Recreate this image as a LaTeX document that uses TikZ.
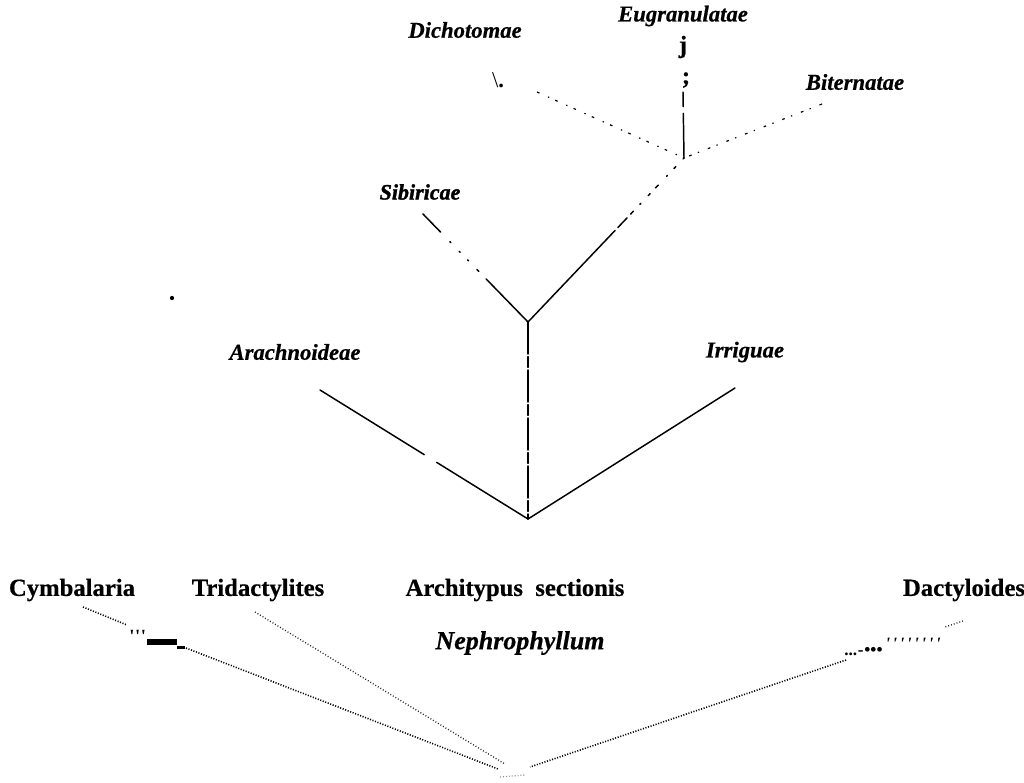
\documentclass[tikz,border=0pt]{standalone}
\usepackage{fontspec}
\setmainfont{Liberation Serif}
\begin{document}
\begin{tikzpicture}[x=0.75pt,y=-0.75pt,
  lbl/.style={font=\fontsize{17}{17}\selectfont\bfseries\itshape\addfontfeature{FakeBold=0.6}, inner sep=0pt},
  lblup/.style={font=\fontsize{18.5}{19}\selectfont\bfseries\addfontfeature{FakeBold=0.6}, inner sep=0pt},
  edge/.style={line width=1.1pt, line cap=round},
  sparse/.style={line width=0.9pt, dash pattern=on 2pt off 7pt on 1pt off 5pt},
  dotline/.style={line width=1.2pt, dash pattern=on 0.8pt off 1.2pt},
  faintdots/.style={line width=1pt, black!85, dash pattern=on 0.7pt off 1.5pt}]
\useasboundingbox (0,0) rectangle (1024,782);

% ---------- upper tree labels ----------
\node[lbl] (eug) at (683,16) {Eugranulatae};
\node[lblup] (j) at (683,47) {j};
\node[lblup] (semi) at (686,80) {;};
\node[lbl] (dich) at (465,30) {Dichotomae};
\node[lblup, font=\fontsize{17}{17}\selectfont] (bsl) at (498,80) {\textbackslash\textbf{.}};
\node[lbl] (bit) at (855,82) {Biternatae};
\node[lbl, font=\fontsize{16.5}{17}\selectfont\bfseries\itshape\addfontfeature{FakeBold=1.5}] (sib) at (420,192) {Sibiricae};
\node[lbl] (ara) at (295,352) {Arachnoideae};
\node[lbl] (irr) at (745,352) {Irriguae};
\node[circle, fill, inner sep=0pt, minimum size=3.2pt] (lone) at (172,298) {};

% ---------- upper tree junctions and ends ----------
\coordinate (J1) at (684,158);
\coordinate (J2) at (528,322);
\coordinate (J3) at (528,519);
\coordinate (eugS) at (683,92);
\coordinate (dichS) at (537,92);
\coordinate (bitS) at (822,104);
\coordinate (sibS) at (423,214);
\coordinate (araS) at (320,390);
\coordinate (irrS) at (735,388);

\draw[edge, dash pattern=on 11pt off 5pt on 60pt] (eugS) -- (J1);
\draw[sparse] (dichS) -- (J1);
\draw[sparse] (bitS) -- (J1);
\draw[edge, dash pattern=on 1pt off 8pt on 2pt off 7pt on 1pt off 9pt on 3pt off 6pt on 2pt off 8pt on 1pt off 7pt on 3pt off 4pt on 10pt off 3pt on 100pt] (J1) -- (J2);
\draw[edge, dash pattern=on 19pt off 10pt on 1pt off 9pt on 1pt off 8pt on 1pt off 9pt on 2pt off 8pt on 60pt] (sibS) -- (J2);
\draw[edge, dash pattern=on 24pt off 2pt on 8pt off 2pt] (J2) -- (J3);
\draw[edge, dash pattern=on 92pt off 11pt on 200pt] (araS) -- (J3);
\draw[edge] (irrS) -- (J3);

% ---------- lower tree labels ----------
\node[lblup] (cym) at (72,590) {Cymbalaria};
\node[lblup] (tri) at (258,590) {Tridactylites};
\node[lblup] (arch) at (515,590) {Architypus\ \ sectionis};
\node[lblup] (dac) at (964,590) {Dactyloides};
\node[lbl, font=\fontsize{19.5}{20}\selectfont\bfseries\itshape\addfontfeature{FakeBold=0.6}] (neph) at (520,643) {Nephrophyllum};

% scanning artefacts lying on the connectors
\node[inner sep=0pt, font=\fontsize{14}{14}\selectfont\bfseries, anchor=west] (artL) at (129,640)
  {\textquotesingle\kern0.5pt\textquotesingle\kern0.5pt\textquotesingle\kern1pt\rule[-1.5pt]{22pt}{4pt}\raisebox{-5pt}{\rule{6pt}{2.5pt}}};
\node[inner sep=0pt, font=\fontsize{13}{13}\selectfont\bfseries, anchor=west] (artR) at (844,647)
  {...\kern0.5pt-\kern0.5pt•••\kern2pt\raisebox{4pt}{\itshape\textquotesingle\kern1.8pt\textquotesingle\kern1.8pt\textquotesingle\kern1.8pt\textquotesingle\kern1.8pt\textquotesingle\kern1.8pt\textquotesingle\kern1.8pt\textquotesingle\kern1.8pt\textquotesingle}};

% ---------- lower tree connectors ----------
\coordinate (cymS) at (83,607);
\coordinate (cymA) at (127,625);
\coordinate (cymB) at (186,648);
\coordinate (triS) at (255,612);
\coordinate (dacS) at (963,621);
\coordinate (dacA) at (945,627);
\coordinate (dacB) at (846,660);
\coordinate (cymE) at (498,769);
\coordinate (triE) at (505,764);
\coordinate (dacE) at (530,767);
\coordinate (apA) at (500,777);
\coordinate (apB) at (525,775);

\draw[dotline] (cymS) -- (cymA);
\draw[dotline] (cymB) -- (cymE);
\draw[faintdots] (triS) -- (triE);
\draw[faintdots] (dacS) -- (dacA);
\draw[dotline] (dacB) -- (dacE);
\draw[faintdots, black!45] (apA) -- (apB);
\end{tikzpicture}
\end{document}
